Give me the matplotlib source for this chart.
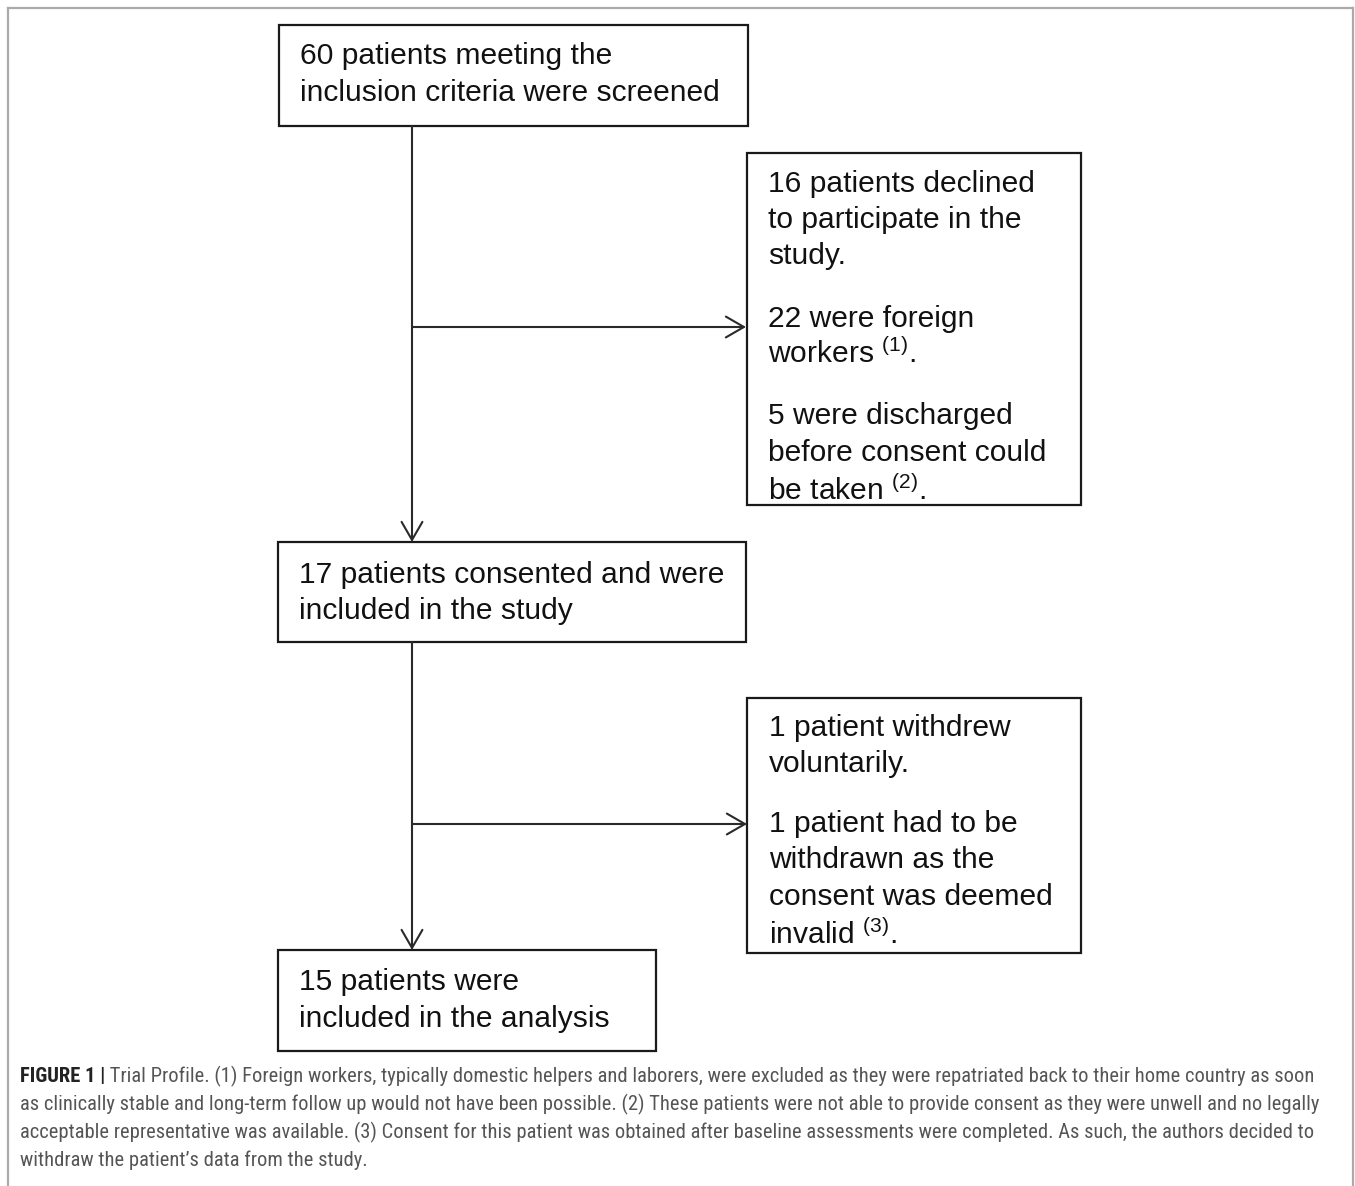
import matplotlib
matplotlib.use("Agg")
import matplotlib.pyplot as plt
from matplotlib.patches import Rectangle, FancyArrowPatch
from matplotlib import font_manager

# flowchart content
box_texts = [
    ["60 patients meeting the", "inclusion criteria were screened"],
    ["16 patients declined", "to participate in the", "study.",
     "22 were foreign", "workers $^{(1)}$.",
     "5 were discharged", "before consent could", "be taken $^{(2)}$."],
    ["17 patients consented and were", "included in the study"],
    ["1 patient withdrew", "voluntarily.",
     "1 patient had to be", "withdrawn as the", "consent was deemed", "invalid $^{(3)}$."],
    ["15 patients were", "included in the analysis"],
]
caption_bold = "FIGURE 1 |"
caption_lines = [
    " Trial Profile. (1) Foreign workers, typically domestic helpers and laborers, were excluded as they were repatriated back to their home country as soon",
    "as clinically stable and long-term follow up would not have been possible. (2) These patients were not able to provide consent as they were unwell and no legally",
    "acceptable representative was available. (3) Consent for this patient was obtained after baseline assessments were completed. As such, the authors decided to",
    "withdraw the patient\u2019s data from the study.",
]

# layout (pixels)
boxes = [(279, 25, 748, 126), (747, 153, 1081, 505), (278, 542, 746, 642),
         (747, 698, 1081, 953), (278, 950, 656, 1051)]
text_x = [300, 768, 299, 769, 299]
baselines = [
    [64, 101],
    [192, 228, 264, 327, 363, 424, 461, 500],
    [583, 619],
    [736, 772, 832, 868, 905, 944],
    [990, 1027],
]
arrows = [((412, 126), (412, 542)), ((412, 327), (746, 327)),
          ((412, 642), (412, 950)), ((412, 824), (747, 824))]

names = {f.name for f in font_manager.fontManager.ttflist}
cap_font = "Liberation Sans"
for cand in ["Roboto Condensed", "Liberation Sans Narrow", "Open Sans Condensed", "Roboto"]:
    if cand in names:
        cap_font = cand
        break

plt.rcParams["mathtext.fontset"] = "custom"
plt.rcParams["mathtext.rm"] = "Liberation Sans"
plt.rcParams["mathtext.it"] = "Liberation Sans"

fig = plt.figure(figsize=(13.55, 11.86), dpi=100)
ax = fig.add_axes([0, 0, 1, 1])
ax.set_xlim(0, 1355)
ax.set_ylim(1186, 0)
ax.axis("off")

# outer frame
ax.plot([8, 8], [1186, 8], color="#aaaaaa", lw=1.6)
ax.plot([8, 1353], [8, 8], color="#aaaaaa", lw=1.6)
ax.plot([1353, 1353], [8, 1186], color="#aaaaaa", lw=1.6)

for (x0, y0, x1, y1), lines, bl, tx in zip(boxes, box_texts, baselines, text_x):
    rect = Rectangle((x0, y0), x1 - x0, y1 - y0, fill=False, ec="#1a1a1a", lw=1.6)
    ax.add_patch(rect)
    clip = Rectangle((x0, y0), x1 - x0, y1 - y0 - 2, transform=ax.transData)
    for line, y in zip(lines, bl):
        t = ax.text(tx, y, line, va="baseline", ha="left", fontsize=21.6,
                    family="Liberation Sans", color="#111111")
        t.set_clip_path(clip)

for start, end in arrows:
    ax.add_patch(FancyArrowPatch(start, end, arrowstyle="->,head_length=13,head_width=7.5",
                                 mutation_scale=1, lw=1.5, color="#2a2a2a",
                                 shrinkA=0, shrinkB=0))

# caption: size chosen so the first three lines span roughly their reference widths
renderer = fig.canvas.get_renderer()
cap_y = [1082, 1110, 1138, 1166]
targets = [1290, 1285, 1280]
ratios = []
for line, target in zip([caption_bold + caption_lines[0]] + caption_lines[1:3], targets):
    probe = ax.text(0, 0, line, fontsize=10, family=cap_font)
    ratios.append(target / probe.get_window_extent(renderer).width)
    probe.remove()
fs = 10 * sum(ratios) / len(ratios)
b = ax.text(20, cap_y[0], caption_bold, va="baseline", fontsize=fs, family=cap_font,
            weight="bold", color="#222222")
bw = b.get_window_extent(renderer).width
ax.text(20 + bw, cap_y[0], caption_lines[0], va="baseline", fontsize=fs,
        family=cap_font, color="#555555")
for line, y in zip(caption_lines[1:], cap_y[1:]):
    ax.text(20, y, line, va="baseline", fontsize=fs, family=cap_font, color="#555555")

fig.savefig("out.png", dpi=100)
